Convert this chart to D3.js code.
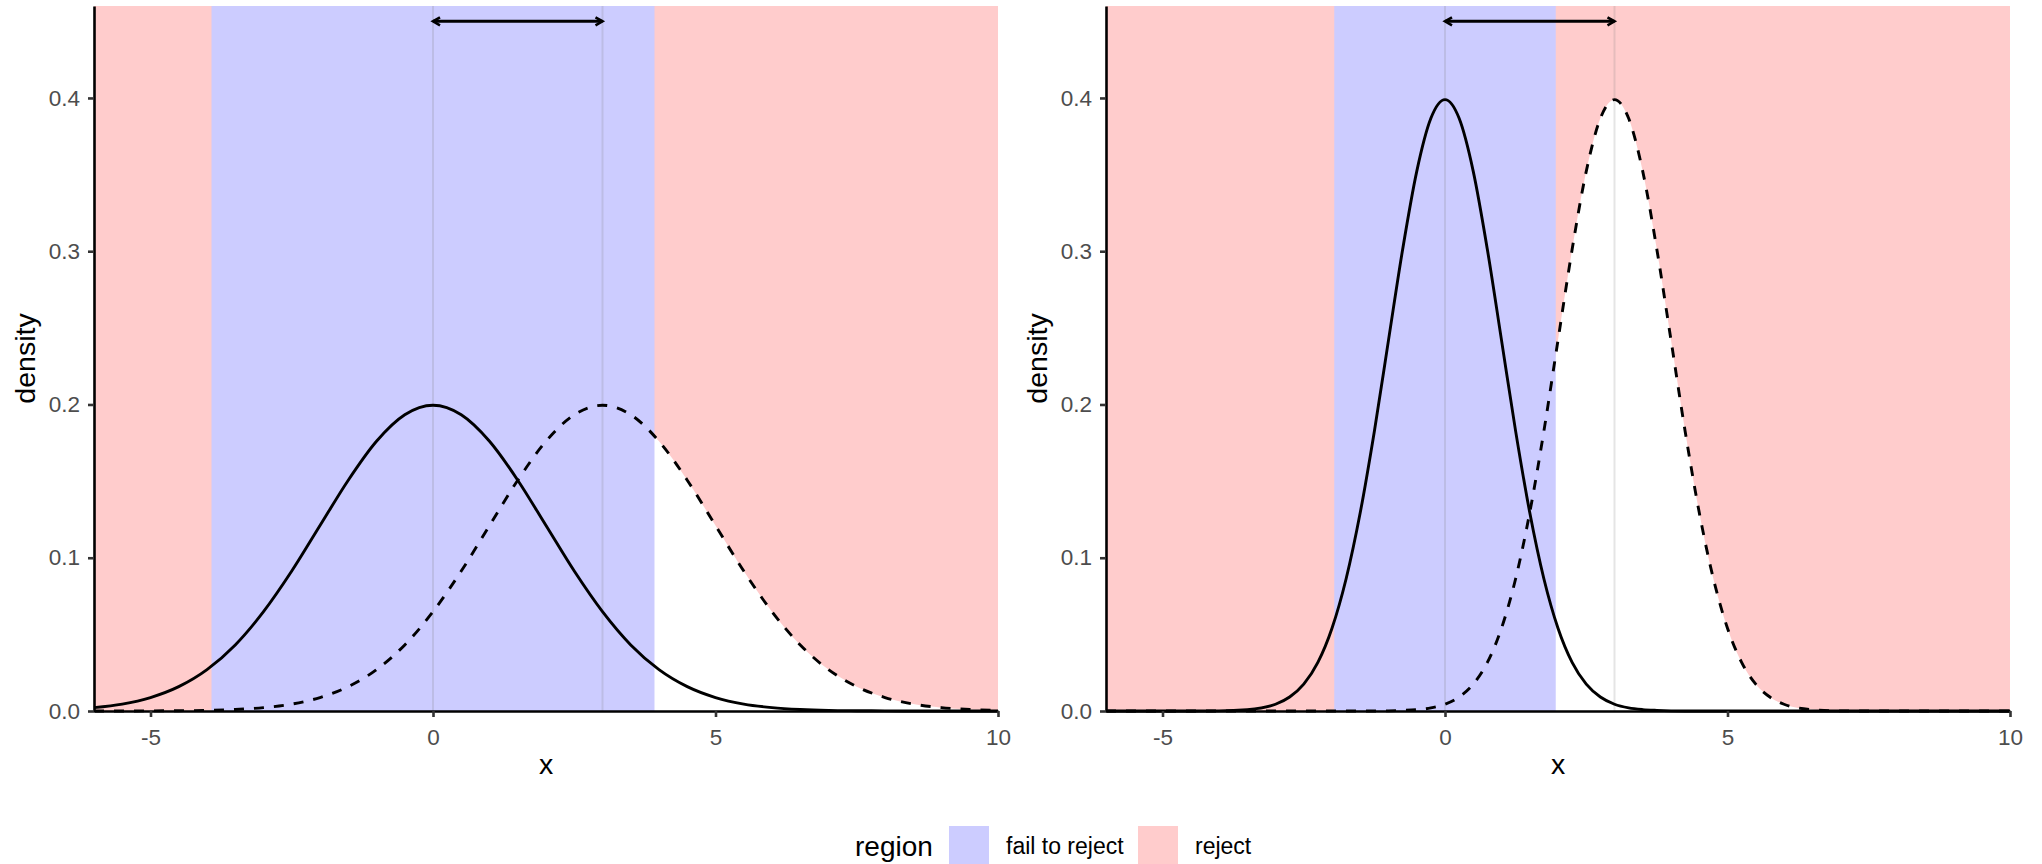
<!DOCTYPE html>
<html>
<head>
<meta charset="utf-8">
<script src="https://cdn.jsdelivr.net/npm/d3@7"></script>
<style>
body { margin: 0; background: #fff; }
text { font-family: "Liberation Sans", Arial, sans-serif; }
</style>
</head>
<body>
<svg></svg>
<script>
var width = 2042, height = 864;
var svg = d3.select("svg").attr("width", width).attr("height", height);

// data
var xTicks = [-5, 0, 5, 10];
var yTicks = [0, 0.1, 0.2, 0.3, 0.4];
var means = [0, 3];              // vertical guides + arrow ends
var regions = ["fail to reject", "reject"];
var regionColors = ["#ccccff", "#ffcccc"];

// left panel (sd 2)
var xLeft = [-6, -5.5, -5, -4.5, -4, -3.5, -3, -2.5, -2, -1.5, -1, -0.5, 0, 0.5, 1, 1.5, 2, 2.5, 3, 3.5, 4, 4.5, 5, 5.5, 6, 6.5, 7, 7.5, 8, 8.5, 9, 9.5, 10];
var nullLeft = [0.0022, 0.0045, 0.0088, 0.0159, 0.0270, 0.0431, 0.0648, 0.0913, 0.1210, 0.1506, 0.1760, 0.1933, 0.1995, 0.1933, 0.1760, 0.1506, 0.1210, 0.0913, 0.0648, 0.0431, 0.0270, 0.0159, 0.0088, 0.0045, 0.0022, 0.0010, 0.0004, 0.0002, 0.0001, 0, 0, 0, 0];
var altLeft = [0, 0, 0.0001, 0.0002, 0.0004, 0.0010, 0.0022, 0.0045, 0.0088, 0.0159, 0.0270, 0.0431, 0.0648, 0.0913, 0.1210, 0.1506, 0.1760, 0.1933, 0.1995, 0.1933, 0.1760, 0.1506, 0.1210, 0.0913, 0.0648, 0.0431, 0.0270, 0.0159, 0.0088, 0.0045, 0.0022, 0.0010, 0.0004];
var critLeft = [-3.92, 3.92];

// right panel (sd 1)
var xRight = [-6, -5, -4, -3.5, -3, -2.75, -2.5, -2.25, -2, -1.75, -1.5, -1.25, -1, -0.75, -0.5, -0.25, 0, 0.25, 0.5, 0.75, 1, 1.25, 1.5, 1.75, 2, 2.25, 2.5, 2.75, 3, 3.25, 3.5, 3.75, 4, 4.25, 4.5, 4.75, 5, 5.25, 5.5, 5.75, 6, 6.5, 7, 8, 9, 10];
var nullRight = [0, 0, 0.0001, 0.0009, 0.0044, 0.0091, 0.0175, 0.0317, 0.0540, 0.0863, 0.1295, 0.1826, 0.2420, 0.3011, 0.3521, 0.3867, 0.3989, 0.3867, 0.3521, 0.3011, 0.2420, 0.1826, 0.1295, 0.0863, 0.0540, 0.0317, 0.0175, 0.0091, 0.0044, 0.0020, 0.0009, 0.0004, 0.0001, 0, 0, 0, 0, 0, 0, 0, 0, 0, 0, 0, 0, 0];
var altRight = [0, 0, 0, 0, 0, 0, 0, 0, 0, 0, 0, 0, 0.0001, 0.0004, 0.0009, 0.0020, 0.0044, 0.0091, 0.0175, 0.0317, 0.0540, 0.0863, 0.1295, 0.1826, 0.2420, 0.3011, 0.3521, 0.3867, 0.3989, 0.3867, 0.3521, 0.3011, 0.2420, 0.1826, 0.1295, 0.0863, 0.0540, 0.0317, 0.0175, 0.0091, 0.0044, 0.0009, 0.0001, 0, 0, 0];
var critRight = [-1.96, 1.96];

var yTop = 0.46, arrowY = 0.45;
var plotTop = 6, plotBottom = 711;

var panels = [
    { left: 94, right: 998, xs: xLeft, h0: nullLeft, h1: altLeft, crit: critLeft },
    { left: 1106, right: 2010, xs: xRight, h0: nullRight, h1: altRight, crit: critRight }
];

var defs = svg.append("defs");
defs.append("marker")
    .attr("id", "head")
    .attr("markerUnits", "userSpaceOnUse")
    .attr("markerWidth", 12)
    .attr("markerHeight", 12)
    .attr("refX", 9)
    .attr("refY", 6)
    .attr("orient", "auto-start-reverse")
    .append("path")
    .attr("d", "M2,2 L9,6 L2,10")
    .attr("fill", "none")
    .attr("stroke", "#000")
    .attr("stroke-width", 2.6);

panels.forEach(drawPanel);

function drawPanel(p) {
    var x = d3.scaleLinear().domain([-6, 10]).range([p.left, p.right]);
    var y = d3.scaleLinear().domain([0, yTop]).range([plotBottom, plotTop]);
    var g = svg.append("g");

    var pts = p.xs.map(function (d, i) {
        return { x: d, h0: p.h0[i], h1: p.h1[i] };
    });

    // reject region: everything above the alternative density
    g.append("path")
        .datum(pts)
        .attr("fill", regionColors[1])
        .attr("d", d3.area()
            .curve(d3.curveMonotoneX)
            .x(function (d) { return x(d.x); })
            .y0(function (d) { return y(d.h1); })
            .y1(y(yTop)));

    // fail to reject band
    g.append("rect")
        .attr("x", x(p.crit[0]))
        .attr("width", x(p.crit[1]) - x(p.crit[0]))
        .attr("y", y(yTop))
        .attr("height", y(0) - y(yTop))
        .attr("fill", regionColors[0]);

    g.selectAll(".vline")
        .data(means)
        .enter().append("line")
        .attr("x1", function (d) { return x(d); })
        .attr("x2", function (d) { return x(d); })
        .attr("y1", y(0))
        .attr("y2", y(yTop))
        .attr("stroke", "#7f7f7f")
        .attr("stroke-opacity", 0.2)
        .attr("stroke-width", 2);

    var line = function (key) {
        return d3.line()
            .curve(d3.curveMonotoneX)
            .x(function (d) { return x(d.x); })
            .y(function (d) { return y(d[key]); });
    };

    g.append("path")
        .datum(pts)
        .attr("fill", "none")
        .attr("stroke", "#000")
        .attr("stroke-width", 2.9)
        .attr("d", line("h0"));

    g.append("path")
        .datum(pts)
        .attr("fill", "none")
        .attr("stroke", "#000")
        .attr("stroke-width", 2.9)
        .attr("stroke-dasharray", "10,10")
        .attr("d", line("h1"));

    // arrow between the two means
    g.append("line")
        .attr("x1", x(means[0]))
        .attr("x2", x(means[1]))
        .attr("y1", y(arrowY))
        .attr("y2", y(arrowY))
        .attr("stroke", "#000")
        .attr("stroke-width", 3)
        .attr("marker-start", "url(#head)")
        .attr("marker-end", "url(#head)");

    // axes
    var xAxis = g.append("g")
        .attr("transform", "translate(0," + plotBottom + ")")
        .call(d3.axisBottom(x).tickValues(xTicks).tickSize(6).tickSizeOuter(0).tickPadding(12)
            .tickFormat(function (d) { return String(d); }));
    var yAxis = g.append("g")
        .attr("transform", "translate(" + p.left + ",0)")
        .call(d3.axisLeft(y).tickValues(yTicks).tickSize(6).tickSizeOuter(0).tickPadding(8)
            .tickFormat(d3.format(".1f")));

    [xAxis, yAxis].forEach(function (a) {
        a.select(".domain").attr("stroke", "#000").attr("stroke-width", 2.6);
        a.selectAll(".tick line").attr("stroke", "#333").attr("stroke-width", 2.6);
        a.selectAll(".tick text")
            .attr("fill", "#4d4d4d")
            .style("font-size", "22.5px")
            .style("font-family", "'Liberation Sans', Arial, sans-serif");
    });

    g.append("text")
        .attr("x", (p.left + p.right) / 2)
        .attr("y", 774)
        .attr("text-anchor", "middle")
        .style("font-size", "28.5px")
        .text("x");

    g.append("text")
        .attr("transform", "translate(" + (p.left - 59) + "," + (plotTop + plotBottom) / 2 + ") rotate(-90)")
        .attr("text-anchor", "middle")
        .style("font-size", "28.5px")
        .text("density");
}

// legend
var legend = svg.append("g");
legend.append("text")
    .attr("x", 855)
    .attr("y", 856)
    .style("font-size", "28px")
    .text("region");

var keyX = [949, 1138];
regions.forEach(function (r, i) {
    legend.append("rect")
        .attr("x", keyX[i])
        .attr("y", 826)
        .attr("width", 40)
        .attr("height", 40)
        .attr("fill", regionColors[i]);
    legend.append("text")
        .attr("x", keyX[i] + 57)
        .attr("y", 854)
        .style("font-size", "23px")
        .text(r);
});
</script>
</body>
</html>
